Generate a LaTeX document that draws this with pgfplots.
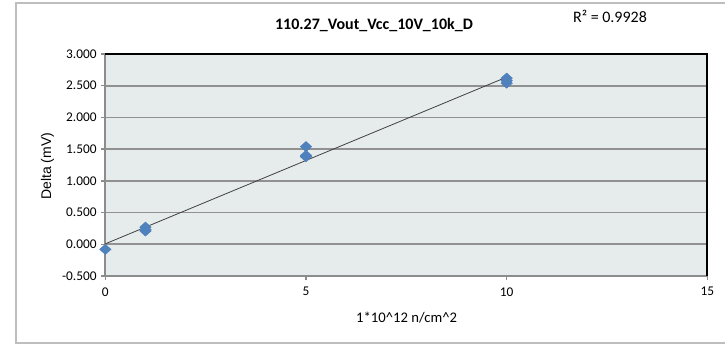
\documentclass[border=0pt]{standalone}
\usepackage{pgfplots}
\pgfplotsset{compat=1.18}
\usepackage{pgfplotstable}
\usepackage{fontspec}
\setmainfont{Carlito}
\newfontfamily\arialfont{Liberation Sans}

\definecolor{plotbg}{RGB}{230,236,236}
\definecolor{gridgray}{RGB}{145,145,145}
\definecolor{axisgray}{RGB}{140,140,140}
\definecolor{markblue}{RGB}{79,129,189}
\definecolor{framegray}{RGB}{190,190,190}

% dose (1e12 n/cm^2) vs delta (mV)
\pgfplotstableread{
x y
0 -0.08
1 0.27
1 0.23
1 0.21
5 1.54
5 1.40
5 1.38
10 2.62
10 2.58
10 2.54
}\deltadata

\begin{document}
\begin{tikzpicture}
\fill[white] (-79pt,-51pt) rectangle (464.75pt,207pt);
\useasboundingbox (-79pt,-51pt) rectangle (464.75pt,207pt);
\draw[framegray, line width=1pt] (-67pt,-50.25pt) rectangle (470pt,204.75pt);

\begin{axis}[
    at={(0,0)}, anchor=south west,
    scale only axis, width=451.5pt, height=166.5pt,
    xmin=0, xmax=15, ymin=-0.5, ymax=3,
    xtick={0,5,10,15},
    ytick={-0.5,0,0.5,1,1.5,2,2.5,3},
    yticklabels={-0.500,0.000,0.500,1.000,1.500,2.000,2.500,3.000},
    xticklabels={0,5,10,15},
    xtick pos=bottom, ytick pos=left,
    tick align=outside, major tick length=3pt,
    tick style={axisgray, line width=1pt},
    axis background/.style={fill=plotbg},
    ymajorgrids, grid style={gridgray, line width=1.2pt},
    axis line style={axisgray, line width=1.6pt},
    ticklabel style={font=\fontsize{10}{12}\selectfont},
    xticklabel style={yshift=-2pt},
    clip=false,
]
\addplot[only marks, mark=diamond*, mark size=3.8pt,
    mark options={fill=markblue, draw=markblue, xscale=1.5}]
    table[x=x, y=y] {\deltadata};
\addplot[no marks, black!75, line width=0.6pt]
    table[x=x, y={create col/linear regression={y=y}}] {\deltadata};
\draw[black, line width=1.5pt] (rel axis cs:0,1) -- (rel axis cs:1,1) -- (rel axis cs:1,0);
\end{axis}

\node[font=\bfseries\fontsize{12}{14}\selectfont] at (201.5pt,188.25pt) {110.27\_Vout\_Vcc\_10V\_10k\_D};
\node[font=\fontsize{12}{14}\selectfont] at (378.5pt,195pt) {R² = 0.9928};
\node[font=\fontsize{11}{13}\selectfont] at (226pt,-31.5pt) {1*10\textasciicircum12 n/cm\textasciicircum2};
\node[rotate=90, font=\arialfont\fontsize{10.5}{12}\selectfont] at (-43.3pt,82.3pt) {Delta (mV)};
\end{tikzpicture}
\end{document}
